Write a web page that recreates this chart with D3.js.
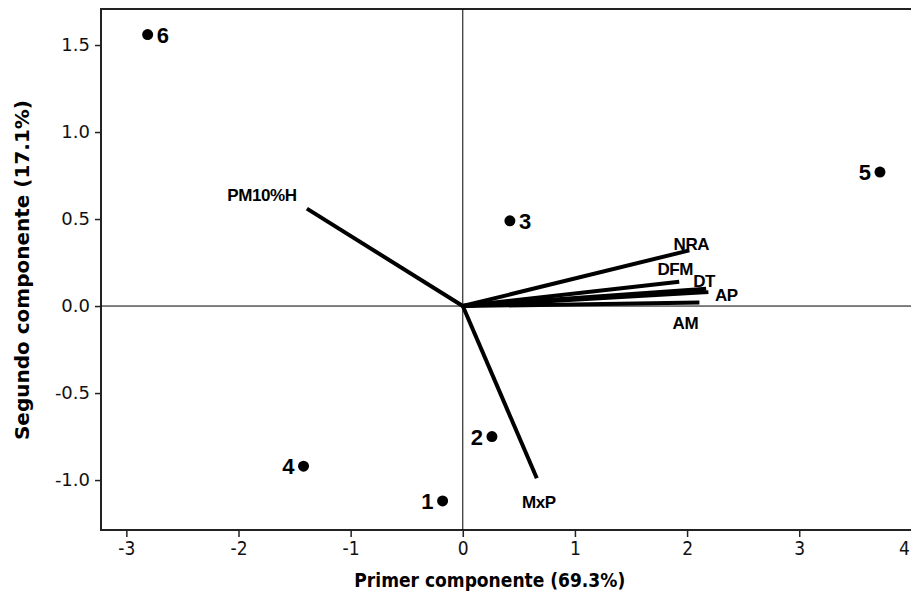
<!DOCTYPE html>
<html>
<head>
<meta charset="utf-8">
<script src="https://cdn.jsdelivr.net/npm/d3@7"></script>
<style>
  body { margin: 0; background: #fff; }
  svg { display: block; }
</style>
</head>
<body>
<div class="chart"></div>
<script>
// PCA biplot scores (samples) and loadings (variables)
const sampleIds = ['1', '2', '3', '4', '5', '6'];
const sampleX = [-0.18, 0.26, 0.42, -1.42, 3.72, -2.81];
const sampleY = [-1.12, -0.75, 0.49, -0.92, 0.77, 1.56];

const varNames = ['PM10%H', 'MxP', 'NRA', 'DFM', 'DT', 'AP', 'AM'];
const varX = [-1.39, 0.66, 2.02, 1.93, 2.17, 2.19, 2.11];
const varY = [0.56, -0.99, 0.32, 0.14, 0.10, 0.08, 0.02];

const xTicks = [-3, -2, -1, 0, 1, 2, 3, 4];
const yTicks = [-1.0, -0.5, 0.0, 0.5, 1.0, 1.5];

// label placement (pixels, relative to mark)
const sampleLabelSide = [-1, -1, 1, -1, -1, 1];
const varLabelOffset = [[-45, -8], [2, 30], [2, 0], [-4, -7], [-2, -2], [18, 9], [-14, 26]];

const W = 911, H = 595;
const margin = {top: 9, right: -8, bottom: 65, left: 101};
const width = W - margin.left - margin.right,
      height = H - margin.top - margin.bottom;

const svg = d3.select('.chart').append('svg')
    .attr('width', W)
    .attr('height', H);

const graph = svg.append('g')
    .attr('transform', `translate(${margin.left}, ${margin.top})`);

const x = d3.scaleLinear().domain([-3.226, 4.068]).range([0, width]);
const y = d3.scaleLinear().domain([-1.287, 1.707]).range([height, 0]);

// frame
graph.append('rect')
    .attr('width', width).attr('height', height)
    .attr('fill', 'none').attr('stroke', '#222').attr('stroke-width', 2);

// zero reference lines
graph.append('line')
    .attr('x1', x(0)).attr('x2', x(0)).attr('y1', 0).attr('y2', height)
    .attr('stroke', '#000').attr('stroke-width', 1);
graph.append('line')
    .attr('x1', 0).attr('x2', width).attr('y1', y(0)).attr('y2', y(0))
    .attr('stroke', '#000').attr('stroke-width', 1);

const hyphen = f => d => f(d).replace('\u2212', '-');

// axes
const xAxis = graph.append('g')
    .attr('transform', `translate(0, ${height})`)
    .call(d3.axisBottom(x).tickValues(xTicks).tickSize(7).tickPadding(5).tickFormat(hyphen(d3.format('d'))));
xAxis.select('.domain').remove();
xAxis.selectAll('line').attr('stroke', '#222').attr('stroke-width', 1.5);
xAxis.selectAll('text')
    .attr('fill', '#111')
    .attr('text-anchor', d => d === 4 ? 'end' : 'middle')
    .attr('dx', d => d === 4 ? -2 : 0)
    .style('font-family', '"DejaVu Sans Condensed", "DejaVu Sans", sans-serif')
    .style('font-size', '19px');

const yAxis = graph.append('g')
    .call(d3.axisLeft(y).tickValues(yTicks).tickSize(6).tickPadding(5).tickFormat(hyphen(d3.format('.1f'))));
yAxis.select('.domain').remove();
yAxis.selectAll('line').attr('stroke', '#222').attr('stroke-width', 1.5);
yAxis.selectAll('text')
    .attr('fill', '#111')
    .style('font-family', '"DejaVu Sans", sans-serif')
    .style('font-size', '18px');

// axis titles
svg.append('text')
    .attr('x', margin.left + x(0) + 27).attr('y', 587)
    .attr('text-anchor', 'middle')
    .style('font-family', '"DejaVu Sans Condensed", "DejaVu Sans", sans-serif')
    .style('font-weight', 'bold').style('font-size', '19px')
    .text('Primer componente (69.3%)');

svg.append('text')
    .attr('transform', `translate(29, ${margin.top + y(0) - 36}) rotate(-90)`)
    .attr('text-anchor', 'middle')
    .style('font-family', '"DejaVu Sans", sans-serif')
    .style('font-weight', 'bold').style('font-size', '20px')
    .text('Segundo componente (17.1%)');

// loading vectors
const vars = varNames.map((name, i) => ({name, x: varX[i], y: varY[i], off: varLabelOffset[i]}));

graph.selectAll('line.vec')
    .data(vars)
    .enter()
    .append('line')
    .attr('class', 'vec')
    .attr('x1', x(0)).attr('y1', y(0))
    .attr('x2', d => x(d.x)).attr('y2', d => y(d.y))
    .attr('stroke', '#000')
    .attr('stroke-width', 4);

graph.selectAll('text.vec')
    .data(vars)
    .enter()
    .append('text')
    .attr('class', 'vec')
    .attr('x', d => x(d.x) + d.off[0])
    .attr('y', d => y(d.y) + d.off[1])
    .attr('text-anchor', 'middle')
    .style('font-family', '"Liberation Sans", Arial, sans-serif')
    .style('font-weight', 'bold')
    .style('font-size', '17px')
    .style('letter-spacing', '-0.4px')
    .text(d => d.name);

// sample scores
const samples = sampleIds.map((id, i) => ({id, x: sampleX[i], y: sampleY[i], side: sampleLabelSide[i]}));

graph.selectAll('circle')
    .data(samples)
    .enter()
    .append('circle')
    .attr('cx', d => x(d.x)).attr('cy', d => y(d.y))
    .attr('r', 5.5)
    .attr('fill', '#000');

graph.selectAll('text.pt')
    .data(samples)
    .enter()
    .append('text')
    .attr('class', 'pt')
    .attr('x', d => x(d.x) + d.side * 9)
    .attr('y', d => y(d.y) + 8)
    .attr('text-anchor', d => d.side > 0 ? 'start' : 'end')
    .style('font-family', '"Liberation Sans", Arial, sans-serif')
    .style('font-weight', 'bold')
    .style('font-size', '22px')
    .text(d => d.id);
</script>
</body>
</html>
